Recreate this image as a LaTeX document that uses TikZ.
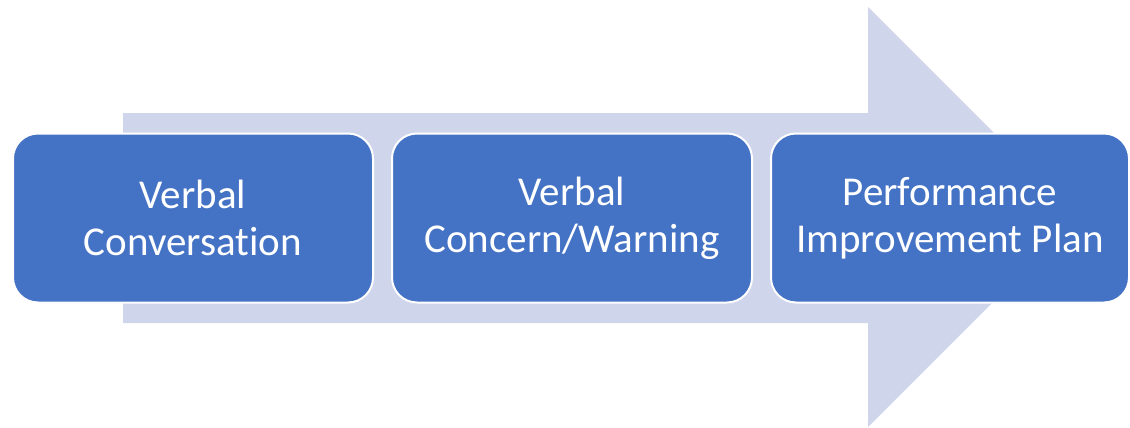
\documentclass[tikz,border=0pt]{standalone}
\usepackage{fontspec}
\setmainfont{Carlito}[Ligatures=NoCommon]
\usetikzlibrary{positioning}

\definecolor{stepblue}{HTML}{4472C4}
\definecolor{arrowback}{HTML}{CFD5EA}

\begin{document}
\begin{tikzpicture}[
  x=1pt, y=-1pt,
  font=\fontsize{41}{47}\selectfont,
  box/.style={draw=white, line width=2pt, rounded corners=25pt, align=center,
              fill=stepblue, text=white, minimum width=360pt, minimum height=169pt,
              inner sep=0pt},
  back/.style={fill=arrowback, draw=none}
]
\useasboundingbox (0,0) rectangle (1130,428);
\fill[back] (123,113) -- (868,113) -- (868,7) -- (1078,217) -- (868,427)
  -- (868,323) -- (123,323) -- cycle;
\node[box] (conv) at (193,218) {Verbal\\Conversation};
\node[box, right=17pt of conv] (warn) {Verbal\\Concern/Warning};
\node[box, right=17pt of warn, minimum width=358pt] (pip) {Performance\\Improvement Plan};
\end{tikzpicture}
\end{document}
